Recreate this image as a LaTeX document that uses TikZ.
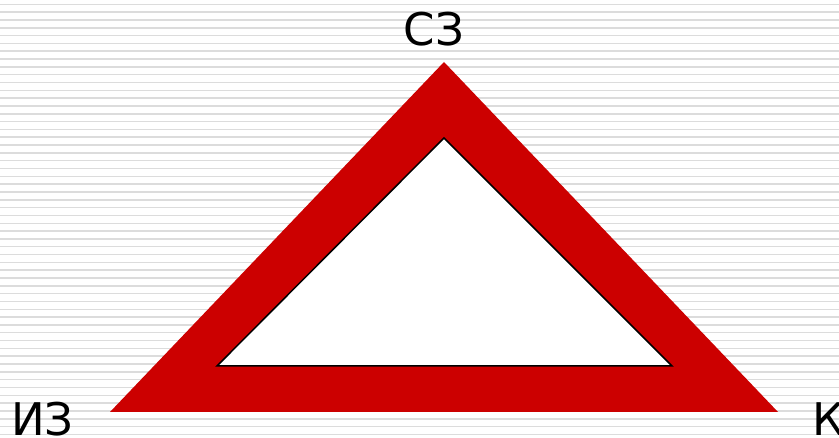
\documentclass[tikz,border=0pt]{standalone}
\usepackage{fontspec}
\setmainfont{DejaVu Sans}
\usepackage{tikz}
\definecolor{signred}{HTML}{CC0000}
\definecolor{stripegray}{HTML}{DCDCDC}

\begin{document}
\begin{tikzpicture}[
    x=1pt, y=-1pt,
    stripe/.style={draw=stripegray, line width=1.5pt},
    outer/.style={fill=signred},
    inner/.style={fill=white, draw=black, line width=1.5pt, line join=miter},
    lbl/.style={inner sep=0pt, font=\fontsize{45}{54}\selectfont}
]

\useasboundingbox (0,0) rectangle (839,438);

% striped background
\foreach \k in {0,...,55}
    \draw[stripe] (0,{4.3+7.82*\k}) -- (839,{4.3+7.82*\k});

% corners
\coordinate (top) at (444,62);
\coordinate (left) at (110,412);
\coordinate (right) at (778,412);
\coordinate (itop) at (444,138);
\coordinate (ileft) at (217,366);
\coordinate (iright) at (672,366);

\fill[outer] (left) -- (top) -- (right) -- cycle;
\draw[inner] (ileft) -- (itop) -- (iright) -- cycle;

\node[lbl, anchor=base] (sz) at (434,45.5) {СЗ};
\node[lbl, anchor=base west] (iz) at (11,436) {ИЗ};
\node[lbl, anchor=base west] (kz) at (812,436) {КЗ};

\end{tikzpicture}
\end{document}
